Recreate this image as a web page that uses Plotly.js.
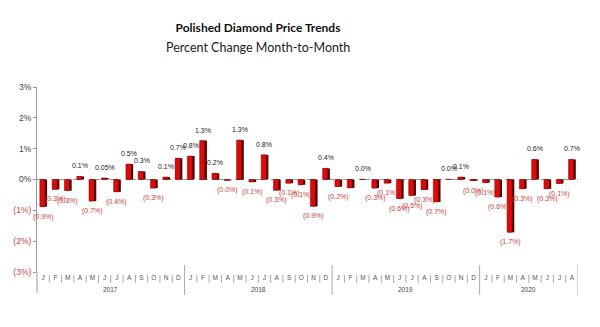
<!DOCTYPE html>
<html>
<head>
<meta charset="utf-8">
<script src="https://cdn.plot.ly/plotly-3.0.1.min.js"></script>
<style>html,body{margin:0;padding:0;background:#fff;}#chart{width:600px;height:327px;}</style>
</head>
<body>
<div id="chart"></div>
<script>
const months = ['J','F','M','A','M','J','J','A','S','O','N','D',
                'J','F','M','A','M','J','J','A','S','O','N','D',
                'J','F','M','A','M','J','J','A','S','O','N','D',
                'J','F','M','A','M','J','J','A'];
const years = ['2017','2018','2019','2020'];
const monthsPerYear = [12,12,12,8];
const values = [-0.88,-0.32,-0.36,0.1,-0.7,0.05,-0.4,0.5,0.26,-0.28,0.08,0.69,
                0.76,1.26,0.2,-0.03,1.28,-0.08,0.8,-0.35,-0.12,-0.17,-0.87,0.36,
                -0.23,-0.27,0.01,-0.28,-0.12,-0.62,-0.52,-0.33,-0.73,0.01,0.08,-0.04,
                -0.1,-0.57,-1.71,-0.3,0.65,-0.3,-0.13,0.65];
const labels = ['(0.9%)','(0.3%)','(0.3%)','0.1%','(0.7%)','0.05%','(0.4%)','0.5%','0.3%','(0.3%)','0.1%','0.7%',
                '0.8%','1.3%','0.2%','(0.0%)','1.3%','(0.1%)','0.8%','(0.3%)','(0.1%)','(0.1%)','(0.9%)','0.4%',
                '(0.2%)','','0.0%','(0.3%)','(0.1%)','(0.6%)','(0.5%)','(0.3%)','(0.7%)','0.0%','0.1%','(0.0%)',
                '(0.1%)','(0.6%)','(1.7%)','(0.3%)','0.6%','(0.3%)','(0.1%)','0.7%'];
const yTickVals = [-3,-2,-1,0,1,2,3];
const yTickText = ['(3%)','(2%)','(1%)','0%','1%','2%','3%'];

const RED_TXT = '#c8413c';
const idx = values.map((v,i)=>i);

const shadow = {
  type:'bar', x: idx, y: values, width: 0.52, offset: -0.2,
  marker:{color:'#4a0000'}, hoverinfo:'skip', showlegend:false
};
const front = {
  type:'bar', x: idx, y: values, width: 0.42, offset: -0.27,
  marker:{color:'#dc0b0b', line:{color:'#7a0000', width:0.5}}, showlegend:false
};

const annotations = [];
values.forEach((v,i)=>{
  if(!labels[i]) return;
  const pos = v >= 0;
  annotations.push({
    x: i, y: v, xref:'x', yref:'y', text: labels[i], showarrow:false,
    yanchor: pos ? 'bottom' : 'top', yshift: pos ? 5 : -4,
    font:{family:'Liberation Sans, Arial, sans-serif', size:7, color: pos ? '#222' : RED_TXT}
  });
});
const shapes = [];
shapes.push({type:'line', xref:'paper', yref:'y', x0:0, x1:1, y0:0, y1:0, layer:'below',
  line:{color:'#9a9a9a', width:1, dash:'dash'}});
shapes.push({type:'line', xref:'paper', yref:'paper', x0:0, x1:0, y0:0, y1:-0.113,
  line:{color:'#9a9a9a', width:1}});
let start = 0;
years.forEach((yr,k)=>{
  const n = monthsPerYear[k];
  const end = start + n;
  for(let i=start;i<end-1;i++){
    shapes.push({type:'line', xref:'x', yref:'paper', x0:i+0.5, x1:i+0.5, y0:-0.016, y1:-0.059,
      line:{color:'#aaaaaa', width:1}});
  }
  shapes.push({type:'line', xref:'x', yref:'paper', x0:end-0.5, x1:end-0.5, y0:0.038, y1:-0.124,
    line:{color:'#aaaaaa', width:1}});
  annotations.push({x:(start+end-1)/2, y:-0.097, xref:'x', yref:'paper', text:yr, showarrow:false,
    yanchor:'middle', font:{family:'Liberation Sans, Arial, sans-serif', size:6.5, color:'#444'}});
  start = end;
});
annotations.push({x:(258-37)/541, xref:'paper', xanchor:'center', y:1.212, yref:'paper', text:'Percent Change Month-to-Month',
  showarrow:false, yanchor:'middle', font:{family:'Lato, sans-serif', size:12.5, color:'#222'}});

const layout = {
  width:600, height:327,
  margin:{l:37, r:22, t:87, b:55},
  paper_bgcolor:'#fff', plot_bgcolor:'#fff',
  barmode:'overlay',
  title:{text:'<b>Polished Diamond Price Trends</b>', x:258/600, xref:'container', xanchor:'center', y:1-28/327, yref:'container', yanchor:'middle',
    font:{family:'Lato, sans-serif', size:12, color:'#111'}},
  xaxis:{range:[-0.5, months.length-0.5], tickmode:'array', tickvals:idx, ticktext:months,
    showgrid:false, zeroline:false, showline:false, ticks:'',
    tickfont:{family:'Liberation Sans, Arial, sans-serif', size:6.5, color:'#555'}, fixedrange:true},
  yaxis:{range:[-3,3], tickmode:'array', tickvals:yTickVals,
    ticktext: yTickText.map((t,i)=> yTickVals[i] < 0 ? '<span style="color:'+RED_TXT+'">'+t+'</span>' : t),
    showgrid:false, zeroline:false, showline:true, linecolor:'#9a9a9a', linewidth:1,
    ticks:'outside', ticklen:3, tickcolor:'#9a9a9a',
    tickfont:{family:'Liberation Sans, Arial, sans-serif', size:8.5, color:'#444'}},
  annotations: annotations,
  shapes: shapes
};
Plotly.newPlot('chart', [shadow, front], layout, {displayModeBar:false, staticPlot:true});
</script>
</body>
</html>
